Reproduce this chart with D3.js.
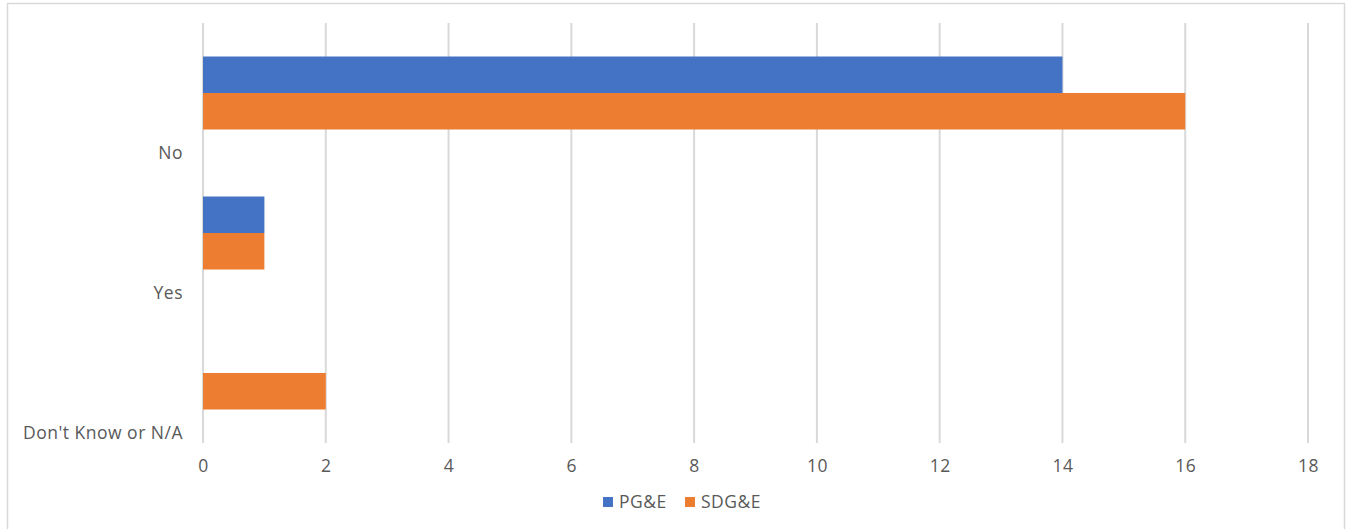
<!DOCTYPE html>
<html>
<head>
<meta charset="utf-8">
<script src="https://cdn.jsdelivr.net/npm/d3@7"></script>
<style>
  body { margin: 0; background: #fff; }
  svg text { font-family: "Open Sans", "DejaVu Sans", sans-serif; fill: #595959; letter-spacing: 0.5px; }
</style>
</head>
<body>
<svg id="chart" width="1348" height="529"></svg>
<script>
// categories top to bottom
var categories = ["No", "Yes", "Don't Know or N/A"];
var seriesNames = ["PG&E", "SDG&E"];
var pgeValues = [14, 1, 0];
var sdgeValues = [16, 1, 2];
var xTicks = [0, 2, 4, 6, 8, 10, 12, 14, 16, 18];
var colors = ["#4472C4", "#ED7D31"];

var svg = d3.select("#chart");
var fs = 17.5;

// chart frame
svg.append("rect")
    .attr("x", 7.5).attr("y", 3.5)
    .attr("width", 1337).attr("height", 540)
    .attr("fill", "#fff")
    .attr("stroke", "#D9D9D9")
    .attr("stroke-width", 1.5);

var plot = { left: 203, right: 1308, top: 23, bottom: 443 };

var x = d3.scaleLinear().domain([0, 18]).range([plot.left, plot.right]);
var y = d3.scaleBand().domain(categories).range([plot.top, plot.bottom]);
var barH = 36.5;

// gridlines
svg.append("g").selectAll("line")
  .data(xTicks)
  .enter().append("line")
    .attr("x1", function(d) { return x(d); })
    .attr("x2", function(d) { return x(d); })
    .attr("y1", plot.top)
    .attr("y2", plot.bottom)
    .attr("stroke", "#D9D9D9")
    .attr("stroke-width", 2);

// bars
var rows = categories.map(function(c, i) {
  return { cat: c, vals: [pgeValues[i], sdgeValues[i]] };
});

var groups = svg.append("g").selectAll("g")
  .data(rows)
  .enter().append("g")
    .attr("transform", function(d) {
      var mid = y(d.cat) + y.bandwidth() / 2;
      return "translate(0," + (mid - barH) + ")";
    });

groups.selectAll("rect")
  .data(function(d) { return d.vals; })
  .enter().append("rect")
    .attr("x", x(0))
    .attr("y", function(d, i) { return i * barH; })
    .attr("width", function(d) { return x(d) - x(0); })
    .attr("height", barH)
    .attr("fill", function(d, i) { return colors[i]; });

// x axis labels
var xAxis = d3.axisBottom(x).tickValues(xTicks).tickSize(0).tickPadding(0);
var gx = svg.append("g")
    .attr("transform", "translate(0," + 472 + ")")
    .call(xAxis);
gx.select(".domain").remove();
gx.selectAll("text")
    .attr("dy", 0)
    .attr("font-size", fs)
    .style("fill", "#595959");

// category labels (sit near the bottom of each band, like the original)
var yAxis = d3.axisLeft(y).tickSize(0).tickPadding(20);
var gy = svg.append("g")
    .attr("transform", "translate(" + plot.left + ",0)")
    .call(yAxis);
gy.select(".domain").remove();
gy.selectAll(".tick")
    .attr("transform", function(d) { return "translate(0," + (y(d) + y.bandwidth() - 10) + ")"; });
gy.selectAll("text")
    .attr("font-size", fs)
    .attr("dy", "0.35em")
    .style("fill", "#595959");

// legend
var legend = svg.append("g").attr("transform", "translate(603,497)");
var lx = [0, 82];
seriesNames.forEach(function(name, i) {
  legend.append("rect")
      .attr("x", lx[i]).attr("y", 0)
      .attr("width", 10).attr("height", 10)
      .attr("fill", colors[i]);
  legend.append("text")
      .attr("x", lx[i] + 16).attr("y", 5)
      .attr("dy", "0.35em")
      .attr("font-size", fs)
      .text(name);
});
</script>
</body>
</html>
